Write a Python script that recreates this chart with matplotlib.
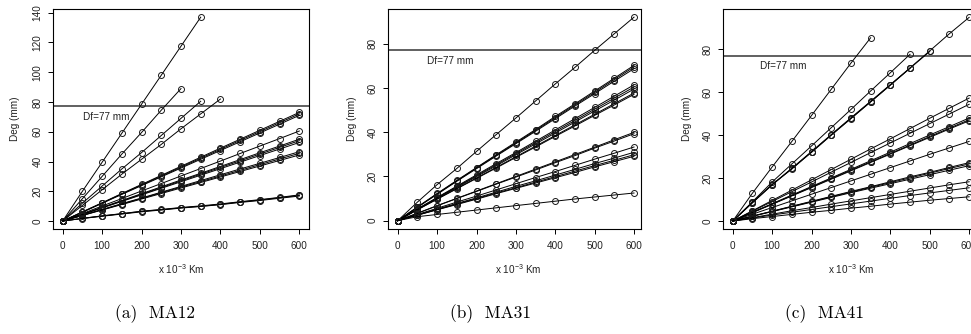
import matplotlib
matplotlib.use("Agg")
import matplotlib.pyplot as plt
import numpy as np

plt.rcParams['font.family'] = ['Liberation Sans', 'DejaVu Sans']
plt.rcParams['mathtext.fontset'] = 'custom'
plt.rcParams['mathtext.rm'] = 'Liberation Sans'
plt.rcParams['mathtext.it'] = 'Liberation Sans:italic'

# distance steps (x 10^-3 Km)
x_km = [0, 50, 100, 150, 200, 250, 300, 350, 400, 450, 500, 550, 600]
x_ticks = [0, 100, 200, 300, 400, 500, 600]
threshold = 77
threshold_label = "Df=77 mm"

ma12 = [
    [0, 20, 39.5, 59, 78.5, 98, 117.5, 137],
    [0, 15, 30, 45, 59.5, 74.5, 89],
    [0, 12, 23.5, 35, 46, 57.5, 69, 80.5],
    [0, 10.5, 21, 31.5, 41.5, 51.5, 62, 72, 82],
    [0, 6.2, 12.3, 18.5, 24.6, 30.7, 36.8, 42.9, 49, 55, 61, 67, 73],
    [0, 6, 12.1, 18.2, 24.2, 30.2, 36.2, 42.2, 48.2, 54.2, 60.1, 66.1, 72],
    [0, 5.9, 11.9, 17.9, 23.8, 29.7, 35.6, 41.5, 47.4, 53.3, 59.2, 65.1, 71],
    [0, 5, 10.1, 15.1, 20.2, 25.2, 30.3, 35.3, 40.3, 45.4, 50.4, 55.4, 60.5],
    [0, 4.6, 9.2, 13.8, 18.4, 23, 27.6, 32.1, 36.7, 41.3, 45.9, 50.4, 55],
    [0, 4.5, 9, 13.5, 18, 22.5, 27, 31.5, 36, 40.5, 45, 49.5, 54],
    [0, 4.4, 8.8, 13.2, 17.6, 22, 26.4, 30.8, 35.2, 39.6, 44, 48.4, 52.8],
    [0, 3.9, 7.8, 11.7, 15.5, 19.4, 23.3, 27.2, 31.1, 35, 38.8, 42.7, 46.6],
    [0, 3.8, 7.6, 11.4, 15.2, 19, 22.8, 26.5, 30.3, 34.1, 37.9, 41.7, 45.5],
    [0, 3.7, 7.4, 11.1, 14.8, 18.5, 22.2, 25.9, 29.6, 33.3, 37, 40.7, 44.4],
    [0, 1.8, 3.4, 4.9, 6.5, 7.6, 8.9, 9.9, 11.2, 12.8, 14.1, 15.7, 17.2],
    [0, 1.7, 3.2, 4.7, 6.2, 7.4, 8.7, 9.8, 11.0, 12.5, 13.8, 15.3, 16.8],
    [0, 1.8, 3.5, 5.0, 6.6, 7.8, 9.1, 10.2, 11.5, 13.0, 14.4, 15.9, 17.6],
]

ma31 = [
    [0, 8.4, 16.3, 23.6, 31.3, 38.9, 46.4, 54.1, 61.8, 69.3, 77, 84.5, 92],
    [0, 6.2, 12.3, 18.2, 24, 29.8, 35.5, 41.2, 47.1, 52.8, 58.6, 64.4, 70.2],
    [0, 6.1, 12.1, 18, 23.8, 29.5, 35.1, 40.8, 46.6, 52.3, 58, 63.8, 69.5],
    [0, 6, 11.9, 17.8, 23.5, 29.2, 34.8, 40.4, 46.1, 51.8, 57.4, 63.1, 68.7],
    [0, 5.3, 10.5, 15.6, 20.7, 25.8, 30.8, 35.9, 41, 46.1, 51.2, 56.3, 61.4],
    [0, 5.2, 10.3, 15.3, 20.3, 25.3, 30.3, 35.3, 40.3, 45.3, 50.4, 55.4, 60.4],
    [0, 5.1, 10.1, 15, 19.9, 24.8, 29.8, 34.7, 39.6, 44.6, 49.6, 54.5, 59.5],
    [0, 5, 9.8, 14.6, 19.3, 24.1, 28.9, 33.7, 38.5, 43.3, 48.1, 52.9, 57.7],
    [0, 4.9, 9.7, 14.4, 19.1, 23.8, 28.6, 33.3, 38.1, 42.8, 47.6, 52.3, 57.1],
    [0, 3.4, 6.8, 10.1, 13.4, 16.7, 20, 23.3, 26.6, 29.9, 33.2, 36.6, 39.9],
    [0, 3.3, 6.7, 10, 13.2, 16.5, 19.7, 22.9, 26.2, 29.4, 32.8, 36, 39.3],
    [0, 2.8, 5.6, 8.4, 11.1, 13.9, 16.7, 19.5, 22.2, 25, 27.8, 30.5, 33.3],
    [0, 2.6, 5.2, 7.8, 10.3, 12.9, 15.5, 18, 20.6, 23.2, 25.8, 28.3, 30.9],
    [0, 2.5, 5, 7.5, 10, 12.5, 14.9, 17.4, 19.9, 22.4, 24.9, 27.3, 29.8],
    [0, 2.5, 4.9, 7.3, 9.7, 12.2, 14.6, 17, 19.4, 21.8, 24.3, 26.7, 29.1],
    [0, 1.8, 2.8, 3.8, 4.8, 5.8, 6.8, 7.8, 8.8, 9.8, 10.7, 11.6, 12.5],
]

ma41 = [
    [0, 13, 25.2, 37.1, 49.2, 61.4, 73.6, 85.4],
    [0, 9, 18.2, 26.6, 35, 43.5, 52, 60.6, 69.1, 77.7],
    [0, 8.7, 17.1, 24.2, 32.2, 40.1, 47.9, 55.6, 63.4, 71.4, 79.3, 87.3, 94.9],
    [0, 8.5, 16.8, 24.5, 32, 40, 47.7, 55.5, 63.3, 71.2, 79],
    [0, 8.6, 17, 24.6, 32.4, 40.3, 48.1, 55.8, 63.6, 71.2],
    [0, 4.8, 9.6, 14.4, 19.2, 24, 28.8, 33.6, 38.3, 43.1, 47.9, 52.6, 57.3],
    [0, 4.6, 9.1, 13.7, 18.2, 22.8, 27.3, 31.9, 36.4, 40.9, 45.4, 49.9, 54.4],
    [0, 4.1, 8.1, 12.1, 16.1, 20.1, 24.1, 28.1, 32.1, 36.1, 40.1, 44, 48],
    [0, 4, 7.9, 11.9, 15.8, 19.8, 23.7, 27.6, 31.5, 35.4, 39.4, 43.3, 47.2],
    [0, 3.9, 7.8, 11.7, 15.6, 19.5, 23.4, 27.3, 31.2, 35.1, 39, 42.9, 46.7],
    [0, 3.2, 6.3, 9.4, 12.5, 15.6, 18.7, 21.8, 24.9, 28, 31.1, 34.1, 37.1],
    [0, 2.3, 4.6, 6.9, 9.2, 11.5, 13.8, 16, 18.3, 20.6, 22.7, 25, 27.2],
    [0, 2.3, 4.5, 6.8, 9, 11.3, 13.5, 15.7, 17.9, 20.1, 22.3, 24.5, 26.6],
    [0, 2.2, 4.4, 6.6, 8.8, 11, 13.2, 15.3, 17.4, 19.5, 21.6, 23.7, 25.8],
    [0, 1.6, 3.2, 4.8, 6.3, 7.9, 9.4, 10.9, 12.4, 13.9, 15.4, 16.9, 18.3],
    [0, 1.4, 2.8, 4.1, 5.4, 6.7, 8, 9.3, 10.6, 11.9, 13.1, 14.3, 15.5],
    [0, 1.1, 2.1, 3.1, 4.1, 5, 6, 6.9, 7.9, 8.8, 9.7, 10.5, 11.3],
]

captions = ["(a)  MA12", "(b)  MA31", "(c)  MA41"]
y_ticks = [[0, 20, 40, 60, 80, 100, 120, 140], [0, 20, 40, 60, 80], [0, 20, 40, 60, 80]]
df_text_pos = [(111, 70), (134, 72.3), (127, 72.2)]

W, H = 971, 334
fig = plt.figure(figsize=(W / 100, H / 100), dpi=100)

# pixel boxes: (left, right, top, bottom), plus axis limits
boxes = [(53.2, 308.8, 9, 229.2), (388.3, 640.7, 9, 228.8), (723.3, 978.6, 9, 229.2)]
xlims = [(-24, 624), (-24, 617), (-24, 624)]
ylims = [(-5.48, 142.48), (-3.68, 95.68), (-3.8, 98.8)]
caption_x = [115, 450, 785]

for i, data in enumerate([ma12, ma31, ma41]):
    l, r, t, b = boxes[i]
    ax = fig.add_axes([l / W, (H - b) / H, (r - l) / W, (b - t) / H])
    ax.set_xlim(*xlims[i])
    ax.set_ylim(*ylims[i])
    ax.axhline(threshold, color='#606060', lw=1.4, zorder=1)
    for s in data:
        ax.plot(x_km[:len(s)], s, color='black', lw=0.7,
                marker='o', ms=4.3, mfc='none', mec='#1a1a1a', mew=0.7, zorder=2)
    tx, ty = df_text_pos[i]
    ax.text(tx, ty, threshold_label, fontsize=7.2, color='#222222', ha='center', va='center')
    ax.set_xticks(x_ticks)
    ax.set_yticks(y_ticks[i])
    ax.tick_params(axis='both', length=3.6, width=0.7, labelsize=7.2, colors='black',
                   labelcolor='#222222')
    ax.tick_params(axis='x', pad=5)
    ax.tick_params(axis='y', pad=4)
    for lab in ax.get_yticklabels():
        lab.set_rotation(90)
        lab.set_va('center')
    for sp in ax.spines.values():
        sp.set_linewidth(0.8)
    # axis labels
    xc = (l + r) / 2 / W if i != 1 else 518 / W
    fig.text(xc, (H - 269) / H, r"x 10$^{-3}$ Km", fontsize=7.2, ha='center', va='center',
             color='#222222')
    ylab_x = [15, 351.7, 686.7][i]
    fig.text(ylab_x / W, (H - (t + b) / 2) / H, "Deg (mm)", fontsize=7.2, rotation=90,
             ha='center', va='center', color='#222222')
    fig.text(caption_x[i] / W, (H - 318) / H, captions[i], fontsize=12.5,
             family='cmr10', ha='left', va='baseline')

fig.savefig("out.png", dpi=100)
